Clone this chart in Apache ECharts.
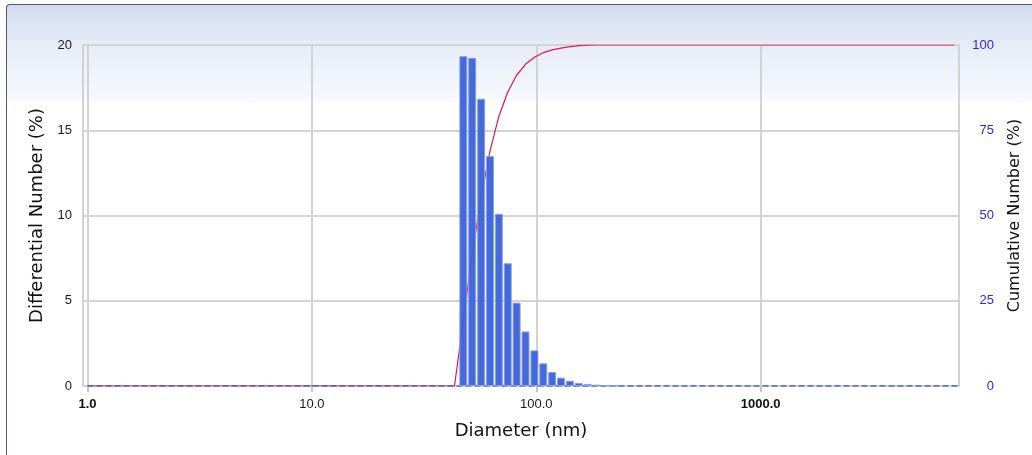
<!DOCTYPE html>
<html><head><meta charset="utf-8">
<script src="https://cdn.jsdelivr.net/npm/echarts@6/dist/echarts.min.js"></script>
<style>
html,body{margin:0;padding:0;width:1032px;height:455px;overflow:hidden;background:#fff;}
#panel{position:absolute;left:6px;top:4px;width:1026px;height:451px;border-top:1.5px solid #4f5a66;border-left:1.5px solid #4f5a66;border-top-left-radius:4px;background:linear-gradient(to bottom,#d3dcef 0px,#e6ecf7 40px,#f6f8fc 92px,#fbfcfe 97px,#ffffff 98px);}
#chart{position:absolute;left:0;top:0;width:1032px;height:455px;}
</style></head><body>
<div id="panel"></div><div id="chart"></div>
<script>
// Bin centre diameters (nm) and differential number (%)
const diameters = [47.3, 51.8, 56.8, 62.2, 68.1, 74.6, 81.7, 89.5, 98.1, 107.4, 117.7, 128.9, 141.2, 154.6, 169.4, 185.6, 203.3, 222.7];
const differential = [19.35, 19.25, 16.85, 13.49, 10.1, 7.2, 4.89, 3.2, 2.09, 1.33, 0.82, 0.49, 0.31, 0.18, 0.12, 0.08, 0.05, 0.03];
// Cumulative number (%) curve
const cumulativeDiameters = [1.0, 43.2, 47.3, 51.8, 56.8, 62.2, 68.1, 74.6, 81.7, 89.5, 98.1, 107.4, 117.7, 128.9, 141.2, 154.6, 169.4, 185.6, 203.3, 222.7, 7300];
const cumulativeValues = [0, 0, 19.35, 38.6, 55.45, 68.94, 79.04, 86.24, 91.13, 94.33, 96.42, 97.75, 98.57, 99.1, 99.5, 99.8, 99.95, 100, 100, 100, 100];
// Zero baseline of differential series (empty bins)
const baselineDiameters = [1.0, 7650];
const baselineValues = [0, 0];
// Axis ticks / labels
const xTickValues = [1, 10, 100, 1000];
const xTickLabels = ['1.0', '10.0', '100.0', '1000.0'];
const xTickBold = [true, false, false, true];
const xRange = [0.955, 7650];
const leftTicks = [0, 5, 10, 15, 20];
const rightTicks = [0, 25, 50, 75, 100];

const FONT = 'DejaVu Sans';
const TICKFONT = 'Liberation Sans';
const chart = echarts.init(document.getElementById('chart'), null, {renderer: 'canvas'});

const barData = diameters.map((d, i) => [d, differential[i]]);
const cumData = cumulativeDiameters.map((d, i) => [d, cumulativeValues[i]]);
const baseData = baselineDiameters.map((d, i) => [d, baselineValues[i]]);

chart.setOption({
  animation: false,
  backgroundColor: 'transparent',
  grid: {left: 83, right: 73, top: 45, bottom: 69, show: true, borderColor: '#c9ccd2', borderWidth: 1.5, backgroundColor: 'transparent'},
  xAxis: {
    type: 'log', logBase: 10, min: xRange[0], max: xRange[1],
    name: 'Diameter (nm)', nameLocation: 'middle', nameGap: 36,
    nameTextStyle: {fontFamily: FONT, fontSize: 18, color: '#111'},
    axisLine: {show: false},
    axisTick: {show: true, length: 6, lineStyle: {color: '#c8c8c8', width: 2}},
    splitLine: {show: true, lineStyle: {color: '#d2d2d2', width: 2}},
    axisLabel: {
      margin: 12, fontFamily: TICKFONT, fontSize: 13, color: '#1a1a1a',
      showMinLabel: false, showMaxLabel: false,
      formatter: function (v) {
        const lg = Math.log10(v);
        const r = Math.round(lg);
        if (Math.abs(lg - r) > 1e-6) return '';
        const idx = xTickValues.indexOf(Math.pow(10, r));
        if (idx < 0) return '';
        return xTickBold[idx] ? '{b|' + xTickLabels[idx] + '}' : '{n|' + xTickLabels[idx] + '}';
      },
      rich: {
        b: {fontFamily: TICKFONT, fontSize: 13, fontWeight: 'bold', color: '#111'},
        n: {fontFamily: TICKFONT, fontSize: 13, color: '#1a1a1a'}
      }
    }
  },
  yAxis: [{
    type: 'value', min: leftTicks[0], max: leftTicks[leftTicks.length - 1], interval: 5,
    name: 'Differential Number (%)', nameLocation: 'middle', nameGap: 36,
    nameTextStyle: {fontFamily: FONT, fontSize: 18, color: '#111'},
    axisLine: {show: false}, axisTick: {show: false},
    splitLine: {show: true, lineStyle: {color: '#d4d4d4', width: 2}},
    axisLabel: {margin: 11, fontFamily: TICKFONT, fontSize: 13, color: '#1a1a1a'}
  }, {
    type: 'value', position: 'right', min: rightTicks[0], max: rightTicks[rightTicks.length - 1], interval: 25,
    name: 'Cumulative Number (%)', nameLocation: 'middle', nameGap: 48,
    nameTextStyle: {fontFamily: FONT, fontSize: 16, color: '#111'},
    axisLine: {show: false}, axisTick: {show: false}, splitLine: {show: false},
    axisLabel: {margin: 35, align: 'right', fontFamily: TICKFONT, fontSize: 13, color: '#2a2ae0'}
  }],
  series: [{
    name: 'Cumulative', type: 'line', yAxisIndex: 1, data: cumData,
    showSymbol: false, symbol: 'none', z: 2,
    lineStyle: {color: '#e3174a', width: 1.2}
  }, {
    name: 'Baseline', type: 'line', yAxisIndex: 0, data: baseData,
    showSymbol: false, symbol: 'none', z: 3,
    lineStyle: {color: '#3a5ad0', width: 1.5, type: [6, 3]}
  }, {
    name: 'Differential', type: 'bar', yAxisIndex: 0, data: barData,
    barWidth: 8, z: 4,
    itemStyle: {color: '#3b63da', borderColor: '#8ca1e6', borderWidth: 1, opacity: 0.96}
  }]
});
</script>
</body></html>
